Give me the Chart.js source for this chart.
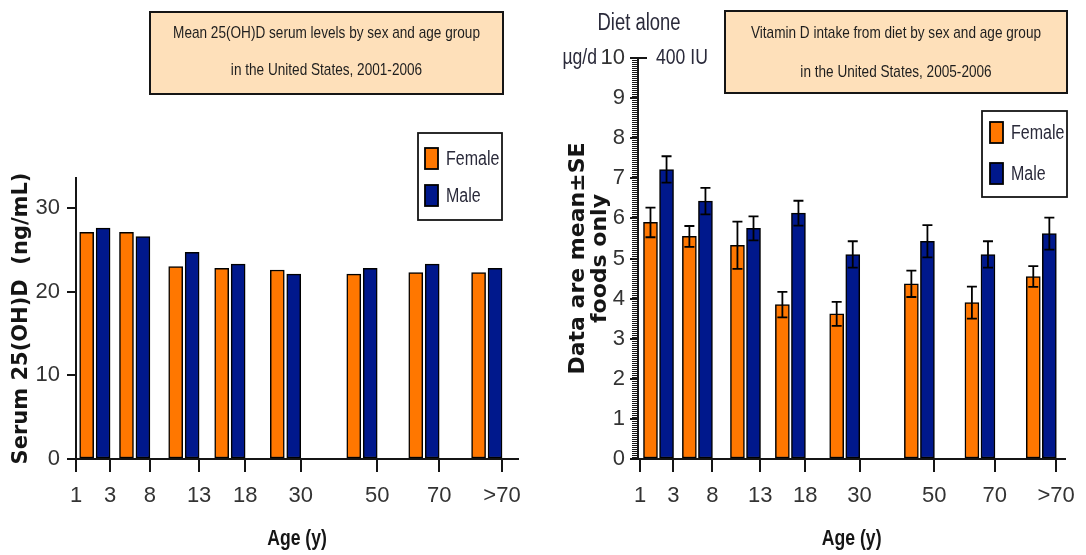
<!DOCTYPE html>
<html>
<head>
<meta charset="utf-8">
<title>Vitamin D by sex and age group</title>
<script src="https://cdn.jsdelivr.net/npm/chart.js@4/dist/chart.umd.min.js"></script>
<style>
  html, body { margin: 0; padding: 0; background: #fff; }
  #wrap { position: relative; width: 1086px; height: 555px; overflow: hidden; }
  #serum { position: absolute; left: 0; top: 0; }
  #diet { position: absolute; left: 540px; top: 0; }
</style>
</head>
<body>
<div id="wrap">
  <canvas id="serum" width="540" height="555"></canvas>
  <canvas id="diet" width="546" height="555"></canvas>
</div>
<script>
// Age-group boundaries drawn on the x axis and where they sit along it
const ageLabels = ['1', '3', '8', '13', '18', '30', '50', '70', '>70'];
const ageTickPos = [0, 8, 17.35, 28.9, 39.7, 52.75, 70.7, 85.25, 100];
const sexLabels = ['Female', 'Male'];

// Mean serum 25(OH)D, ng/mL, 2001-2006 (one value per age group)
const serumFemale = [27.1, 27.1, 23.0, 22.8, 22.6, 22.1, 22.3, 22.3];
const serumMale   = [27.6, 26.6, 24.7, 23.3, 22.1, 22.8, 23.3, 22.8];

// Vitamin D intake from diet, µg/d, 2005-2006: mean and SE
const dietFemale   = [5.9, 5.55, 5.33, 3.85, 3.62, 4.37, 3.9, 4.55];
const dietFemaleSE = [0.37, 0.26, 0.59, 0.32, 0.3, 0.33, 0.4, 0.26];
const dietMale     = [7.22, 6.43, 5.75, 6.13, 5.1, 5.43, 5.1, 5.62];
const dietMaleSE   = [0.33, 0.33, 0.3, 0.31, 0.33, 0.4, 0.33, 0.4];

const serumTicks = [0, 10, 20, 30];

const FEMALE = '#FF7700';
const MALE = '#00188C';
const INK = '#151515';
const LABEL = '#333333';
const SANS = "'Liberation Sans', Arial, sans-serif";
const WIDE = "'DejaVu Sans', Verdana, sans-serif";
const SQUEEZE = 0.8;   // horizontal squeeze for the narrow annotation lettering

// Each group's pair of bars sits just left of the group's upper age tick
const BAR_SHIFT = { Female: -5.5, Male: -1.64 };
function barPoints(values, sex) {
  return values.map((v, i) => ({ x: ageTickPos[i + 1] + BAR_SHIFT[sex], y: v }));
}

function barDataset(sex, values, extra) {
  return Object.assign({
    label: sex,
    data: barPoints(values, sex),
    backgroundColor: sex === 'Female' ? FEMALE : MALE,
    borderColor: '#000',
    borderWidth: 1.5,
    borderSkipped: false,
    barThickness: 14,
    grouped: false
  }, extra || {});
}

// narrow lettering: regular sans squeezed horizontally
function narrowText(ctx, text, x, y, size, align, weight, color) {
  ctx.save();
  ctx.font = (weight ? weight + ' ' : '') + size + 'px ' + SANS;
  ctx.textAlign = align;
  ctx.textBaseline = 'middle';
  ctx.fillStyle = color;
  ctx.translate(x, y);
  ctx.scale(SQUEEZE, 1);
  ctx.fillText(text, 0, 0);
  ctx.restore();
}

// Title box, legend, error bars, axis caption and extra annotations
function decorations(cfg) {
  return {
    id: 'decorations',
    afterDatasetsDraw(chart) {
      const ctx = chart.ctx;
      const yScale = chart.scales.y;
      ctx.save();
      chart.data.datasets.forEach((ds, di) => {
        if (!ds.se) return;
        const meta = chart.getDatasetMeta(di);
        ctx.strokeStyle = '#000';
        ctx.lineWidth = 1.8;
        meta.data.forEach((bar, i) => {
          const yHi = yScale.getPixelForValue(ds.means[i] + ds.se[i]);
          const yLo = yScale.getPixelForValue(ds.means[i] - ds.se[i]);
          ctx.beginPath();
          ctx.moveTo(bar.x, yHi); ctx.lineTo(bar.x, yLo);
          ctx.moveTo(bar.x - 5, yHi); ctx.lineTo(bar.x + 5, yHi);
          ctx.moveTo(bar.x - 5, yLo); ctx.lineTo(bar.x + 5, yLo);
          ctx.stroke();
        });
      });
      ctx.restore();
    },
    afterDraw(chart) {
      const ctx = chart.ctx;
      ctx.save();
      // title box
      const b = cfg.box;
      ctx.fillStyle = '#FEE0BA';
      ctx.fillRect(b.x, b.y, b.w, b.h);
      ctx.lineWidth = 2;
      ctx.strokeStyle = INK;
      ctx.strokeRect(b.x, b.y, b.w, b.h);
      cfg.title.forEach((t, i) =>
        narrowText(ctx, t, b.x + b.w / 2, b.y + cfg.titleTop + i * cfg.titleGap, 17, 'center', '', '#1e1e1e'));

      // legend
      const L = cfg.legend;
      ctx.fillStyle = '#fff';
      ctx.fillRect(L.x, L.y, L.w, L.h);
      ctx.lineWidth = 1.8;
      ctx.strokeStyle = INK;
      ctx.strokeRect(L.x, L.y, L.w, L.h);
      chart.data.datasets.forEach((ds, i) => {
        const sy = L.y + L.rows[i];
        ctx.fillStyle = ds.backgroundColor;
        ctx.fillRect(L.x + L.sw, sy, 13, 21);
        ctx.strokeStyle = '#000';
        ctx.lineWidth = 1.8;
        ctx.strokeRect(L.x + L.sw, sy, 13, 21);
        narrowText(ctx, ds.label, L.x + L.tx, sy + 11, 20, 'left', '', '#2a2a3a');
      });

      // x axis caption
      const area = chart.chartArea;
      narrowText(ctx, 'Age (y)', (area.left + area.right) / 2, 539, 22, 'center', 'bold', INK);

      if (cfg.extra) cfg.extra(chart, ctx);
      ctx.restore();
    }
  };
}

function xAxis(range) {
  return {
    type: 'linear',
    min: ageTickPos[0] - (range.lead || 0),
    max: range.max,
    offset: false,
    afterBuildTicks: s => { s.ticks = ageTickPos.map(v => ({ value: v })); },
    afterFit: s => { s.height = 96; },
    ticks: {
      autoSkip: false, maxRotation: 0, padding: 11, color: LABEL,
      font: { family: SANS, size: 22 },
      callback: (v, i) => ageLabels[i]
    },
    grid: { offset: false, drawOnChartArea: false, drawTicks: true, tickLength: 13, color: INK, lineWidth: 2 },
    border: { display: true, color: INK, width: 2 }
  };
}

// Serum 25(OH)D chart
new Chart(document.getElementById('serum'), {
  type: 'bar',
  data: {
    datasets: [
      barDataset(sexLabels[0], serumFemale),
      barDataset(sexLabels[1], serumMale)
    ]
  },
  options: {
    responsive: false,
    animation: false,
    layout: { padding: { left: 0, right: 22, top: 178, bottom: 0 } },
    plugins: { legend: { display: false }, tooltip: { enabled: false } },
    scales: {
      x: xAxis({ max: 103.75 }),
      y: {
        min: 0, max: 33.6,
        afterBuildTicks: s => { s.ticks = serumTicks.map(v => ({ value: v })); },
        afterFit: s => { s.width = 76; },
        ticks: { padding: 7, color: LABEL, font: { family: SANS, size: 22 } },
        grid: { drawOnChartArea: false, drawTicks: true, tickLength: 9, color: INK, lineWidth: 2 },
        border: { display: true, color: INK, width: 2 },
        title: {
          display: true, text: 'Serum 25(OH)D  (ng/mL)', color: INK,
          font: { family: WIDE, size: 21, weight: 'bold', lineHeight: 1.1 },
          padding: { top: 10, bottom: 0 }
        }
      }
    }
  },
  plugins: [decorations({
    box: { x: 150, y: 12, w: 353, h: 82 },
    title: ['Mean 25(OH)D serum levels by sex and age group', 'in the United States, 2001-2006'],
    titleTop: 21, titleGap: 37,
    legend: { x: 418, y: 133, w: 84, h: 87, sw: 7, tx: 28, rows: [15, 52] }
  })]
});

// Dietary vitamin D intake chart
new Chart(document.getElementById('diet'), {
  type: 'bar',
  data: {
    datasets: [
      barDataset(sexLabels[0], dietFemale, { means: dietFemale, se: dietFemaleSE }),
      barDataset(sexLabels[1], dietMale, { means: dietMale, se: dietMaleSE })
    ]
  },
  options: {
    responsive: false,
    animation: false,
    layout: { padding: { left: 0, right: 8, top: 58, bottom: 0 } },
    plugins: { legend: { display: false }, tooltip: { enabled: false } },
    scales: {
      x: xAxis({ max: 102.2, lead: 0.5 }),
      y: {
        min: 0, max: 10,
        ticks: { stepSize: 1, padding: 5, color: LABEL, font: { family: SANS, size: 22 } },
        afterFit: s => { s.width = 98; },
        grid: { drawOnChartArea: false, drawTicks: true, tickLength: 8, color: INK, lineWidth: 2 },
        border: { display: true, color: INK, width: 2 },
        title: {
          display: true, text: ['Data are mean\u00b1SE', 'foods only'], color: INK,
          font: { family: WIDE, size: 22, weight: 'bold', lineHeight: 1.0 },
          padding: { top: 27, bottom: 0 }
        }
      }
    }
  },
  plugins: [decorations({
    box: { x: 185, y: 11, w: 342, h: 82 },
    title: ['Vitamin D intake from diet by sex and age group', 'in the United States, 2005-2006'],
    titleTop: 22, titleGap: 39,
    legend: { x: 442, y: 111, w: 85, h: 86, sw: 8, tx: 29, rows: [11, 52] },
    extra(chart, ctx) {
      const y = chart.scales.y;
      const x0 = chart.chartArea.left;
      // fine ruler ticks between the whole-number ticks
      ctx.strokeStyle = INK;
      ctx.lineWidth = 1;
      for (let k = 1; k < 200; k++) {
        if (k % 20 === 0) continue;
        const py = Math.round(y.getPixelForValue(k / 20)) + 0.5;
        ctx.beginPath();
        ctx.moveTo(x0 - 6, py); ctx.lineTo(x0, py);
        ctx.stroke();
      }
      // top tick crosses the axis
      const top = y.getPixelForValue(10);
      ctx.lineWidth = 2;
      ctx.beginPath();
      ctx.moveTo(x0, top); ctx.lineTo(x0 + 9, top);
      ctx.stroke();
      // unit annotations around the top tick
      narrowText(ctx, '\u00b5g/d', 57, top, 22, 'right', '', '#2a2a3a');
      narrowText(ctx, '400 IU', 116, top, 22, 'left', '', '#2a2a3a');
      narrowText(ctx, 'Diet alone', 99, 24, 23, 'center', '', '#2a2a3a');
    }
  })]
});
</script>
</body>
</html>
